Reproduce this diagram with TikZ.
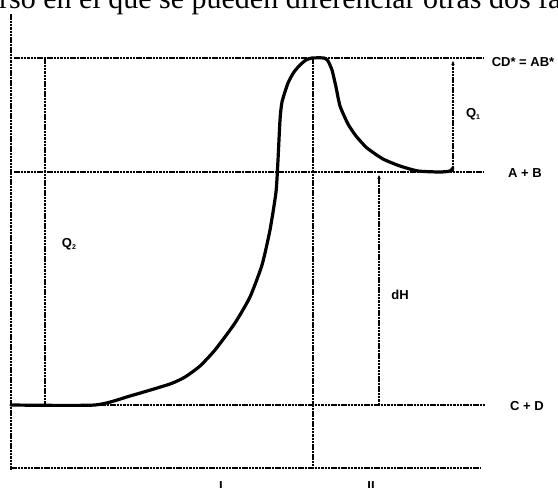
\documentclass[tikz,border=0pt]{standalone}
\usepackage{fontspec}
\setmainfont{Liberation Serif}
\setsansfont{Liberation Sans}
\usetikzlibrary{arrows.meta}
\begin{document}
\begin{tikzpicture}[x=1pt,y=-1pt,
  guide/.style={line width=1.2pt, dash pattern=on 2.5pt off 0.8pt},
  arr/.style={guide, -{Stealth[length=4pt,width=3.5pt]}},
  lbl/.style={font=\sffamily\bfseries\fontsize{13}{15}\selectfont, inner sep=0pt},
  curve/.style={line width=3.2pt, line join=round, line cap=round}]
\useasboundingbox (0,0) rectangle (558,488);
% cut-off text line at the top
\node[anchor=base west, inner sep=0pt, font=\fontsize{30}{34}\selectfont] (txt) at (-1,8) {rso en el que se pueden diferenciar otras dos fa};
% coordinates
\coordinate (axT) at (11,14);
\coordinate (axB) at (11,470);
\coordinate (tL) at (14,58);
\coordinate (tR) at (483,58);
\coordinate (abL) at (14,172);
\coordinate (abR) at (483,172);
\coordinate (cdL) at (11,405);
\coordinate (cdR) at (486,405);
\coordinate (bL) at (11,468);
\coordinate (bR) at (480,468);
\coordinate (cT) at (313,58);
\coordinate (cB) at (313,468);
\coordinate (q2T) at (45,58);
\coordinate (q2B) at (45,405);
\coordinate (q1B) at (453,172);
\coordinate (q1T) at (453,61);
\coordinate (dhB) at (379,405);
\coordinate (dhT) at (379,175);
% guide lines
\draw[guide] (axT) -- (axB);
\draw[guide] (tL) -- (tR);
\draw[guide] (abL) -- (abR);
\draw[guide] (cdL) -- (cdR);
\draw[guide] (bL) -- (bR);
\draw[guide] (cT) -- (cB);
\draw[guide] (q2T) -- (q2B);
\draw[arr] (q1B) -- (q1T);
\draw[arr] (dhB) -- (dhT);
% energy curve
\draw[curve] plot[smooth, tension=0.35] coordinates {
 (11,405) (95,405) (130,396) (170,384) (185,377) (200,366) (215,350)
 (235,323) (250,297) (262,265) (270,230) (276,192) (278,160) (280,120)
 (282,102) (288,83) (294,72) (300,65) (306,60) (312,58) (324,58) (328,61)
 (332,70) (336,87) (340,106) (348,124) (356,136) (367,148) (383,159)
 (400,166) (418,171) (440,172) (450,171) (453,168)};
% labels
\node[lbl] (lcd) at (523,62) {CD* = AB*};
\node[lbl] (lab) at (525,173) {A + B};
\node[lbl] (lcdd) at (527,406) {C + D};
\node[lbl] (lq1) at (473,114) {Q\raisebox{-2.5pt}{\fontsize{7}{8}\selectfont 1}};
\node[lbl] (lq2) at (69,244) {Q\raisebox{-2.5pt}{\fontsize{7}{8}\selectfont 2}};
\node[lbl] (ldh) at (400,295) {dH};
\node[lbl, anchor=base] (lI) at (221,490) {I};
\node[lbl, anchor=base] (lII) at (371,490) {II};
\end{tikzpicture}
\end{document}
